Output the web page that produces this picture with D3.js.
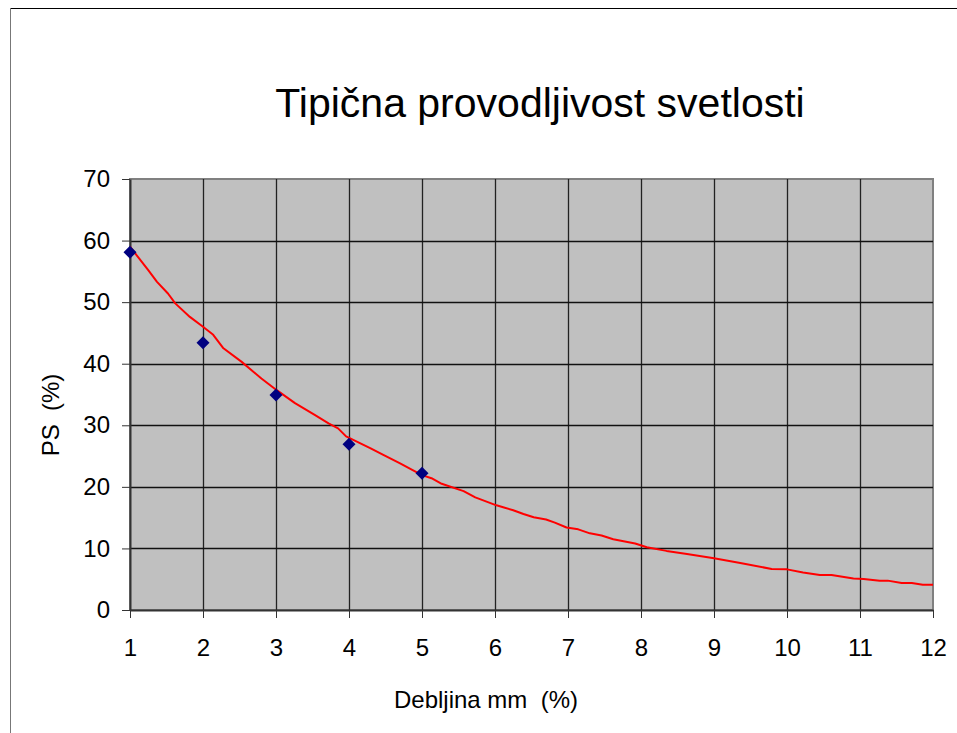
<!DOCTYPE html>
<html>
<head>
<meta charset="utf-8">
<script src="https://cdn.jsdelivr.net/npm/d3@7"></script>
<style>
  body { margin: 0; background: #fff; }
  svg { display: block; font-family: "Liberation Sans", Arial, sans-serif; }
  .tit { white-space: pre; }
</style>
</head>
<body>
<div id="grafico"></div>
<script>
/////////// DATOS /////////
var titulo = "Tipična provodljivost svetlosti";
var tituloX = "Debljina mm  (%)";
var tituloY = "PS  (%)";

// ticks
var ticksX = [1, 2, 3, 4, 5, 6, 7, 8, 9, 10, 11, 12];
var ticksY = [0, 10, 20, 30, 40, 50, 60, 70];

// puntos medidos (rombos)
var puntosX = [1, 2, 3, 4, 5];
var puntosY = [58.1, 43.4, 34.9, 26.9, 22.2];

// curva roja
var curvaX = [1.0, 1.25, 1.37, 1.52, 1.62, 1.82, 2.0, 2.14, 2.28, 2.53, 2.8, 3.01, 3.26, 3.53, 3.72, 3.85, 3.96,
  4.29, 4.47, 4.7, 5.0, 5.13, 5.27, 5.57, 5.73, 6.02, 6.25, 6.39, 6.53, 6.7, 6.82, 6.98, 7.14, 7.3, 7.46, 7.62,
  7.92, 8.08, 8.35, 8.63, 9.0, 9.36, 9.79, 10.0, 10.22, 10.45, 10.61, 10.91, 11.05, 11.27, 11.38, 11.57, 11.71, 11.86, 12.0];
var curvaY = [59.0, 55.2, 53.3, 51.4, 49.8, 47.6, 46.0, 44.7, 42.5, 40.3, 37.6, 35.7, 33.6, 31.7, 30.3, 29.5, 28.2,
  26.3, 25.2, 23.8, 21.9, 21.4, 20.5, 19.3, 18.3, 17.0, 16.2, 15.6, 15.06, 14.7, 14.2, 13.4, 13.1, 12.45, 12.1, 11.5,
  10.8, 10.2, 9.6, 9.1, 8.4, 7.65, 6.66, 6.6, 6.1, 5.7, 5.7, 5.1, 5.03, 4.77, 4.77, 4.39, 4.39, 4.1, 4.1];

/////////// SVG /////////
var W = 957, H = 733;
var svg = d3.select("#grafico").append("svg")
  .attr("width", W)
  .attr("height", H);

// marco del grafico
svg.append("line").attr("x1", 10).attr("y1", 8.5).attr("x2", W).attr("y2", 8.5)
  .attr("stroke", "#000").attr("stroke-width", 1);
svg.append("line").attr("x1", 10.5).attr("y1", 8).attr("x2", 10.5).attr("y2", H)
  .attr("stroke", "#777").attr("stroke-width", 1);

/////////// ESCALAS /////////
var x = d3.scaleLinear().domain([1, 12]).range([130, 933]);
var y = d3.scaleLinear().domain([0, 70]).range([610, 179]);

// fondo gris
svg.append("rect")
  .attr("x", x(1)).attr("y", y(70))
  .attr("width", x(12) - x(1)).attr("height", y(0) - y(70))
  .attr("fill", "#C0C0C0")
  .attr("stroke", "#808080")
  .attr("stroke-width", 2);

// grid
svg.append("g").selectAll("line.gx")
  .data(ticksX.slice(1, -1))
  .enter().append("line")
  .attr("x1", function(d) { return Math.round(x(d)) + 0.5; })
  .attr("x2", function(d) { return Math.round(x(d)) + 0.5; })
  .attr("y1", y(70)).attr("y2", y(0))
  .attr("stroke", "#222").attr("stroke-width", 1.3);

svg.append("g").selectAll("line.gy")
  .data(ticksY.slice(1, -1))
  .enter().append("line")
  .attr("y1", function(d) { return Math.round(y(d)) + 0.5; })
  .attr("y2", function(d) { return Math.round(y(d)) + 0.5; })
  .attr("x1", x(1)).attr("x2", x(12))
  .attr("stroke", "#111").attr("stroke-width", 1.3);

/////////// EJES /////////
var ejeY = svg.append("g")
  .attr("transform", "translate(" + x(1) + ",0)")
  .call(d3.axisLeft(y).tickValues(ticksY).tickSize(8).tickPadding(12).tickSizeOuter(0));
ejeY.selectAll("text").attr("font-size", "24px").attr("fill", "#000").attr("font-family", "Liberation Sans, Arial, sans-serif");
ejeY.selectAll("line").attr("stroke", "#333");
ejeY.select(".domain").attr("stroke", "#333").attr("stroke-width", 2);

var ejeX = svg.append("g")
  .attr("transform", "translate(0," + y(0) + ")")
  .call(d3.axisBottom(x).tickValues(ticksX).tickSize(8).tickPadding(21).tickSizeOuter(0));
ejeX.selectAll("text").attr("font-size", "24px").attr("fill", "#000").attr("font-family", "Liberation Sans, Arial, sans-serif");
ejeX.selectAll("line").attr("stroke", "#333");
ejeX.select(".domain").attr("stroke", "#333").attr("stroke-width", 2);

/////////// TEXTOS /////////
svg.append("text")
  .attr("x", 540).attr("y", 117)
  .attr("text-anchor", "middle")
  .attr("font-size", "41px")
  .attr("fill", "#000")
  .text(titulo);

svg.append("text")
  .attr("class", "tit")
  .attr("x", 486).attr("y", 708)
  .attr("text-anchor", "middle")
  .attr("font-size", "24px")
  .attr("fill", "#000")
  .text(tituloX);

svg.append("text")
  .attr("class", "tit")
  .attr("transform", "translate(59,415) rotate(-90)")
  .attr("text-anchor", "middle")
  .attr("font-size", "24px")
  .attr("fill", "#000")
  .text(tituloY);

/////////// DATOS PINTADOS /////////
var curva = curvaX.map(function(d, i) { return [d, curvaY[i]]; });
svg.append("path")
  .datum(curva)
  .attr("fill", "none")
  .attr("stroke", "#FF0000")
  .attr("stroke-width", 2)
  .attr("stroke-linejoin", "round")
  .attr("d", d3.line()
    .x(function(d) { return x(d[0]); })
    .y(function(d) { return y(d[1]); }));

svg.append("g").selectAll("path.punto")
  .data(puntosX.map(function(d, i) { return [d, puntosY[i]]; }))
  .enter().append("path")
  .attr("transform", function(d) { return "translate(" + x(d[0]) + "," + y(d[1]) + ")"; })
  .attr("d", "M0,-6.5L6.5,0L0,6.5L-6.5,0Z")
  .attr("fill", "#000080");
</script>
</body>
</html>
